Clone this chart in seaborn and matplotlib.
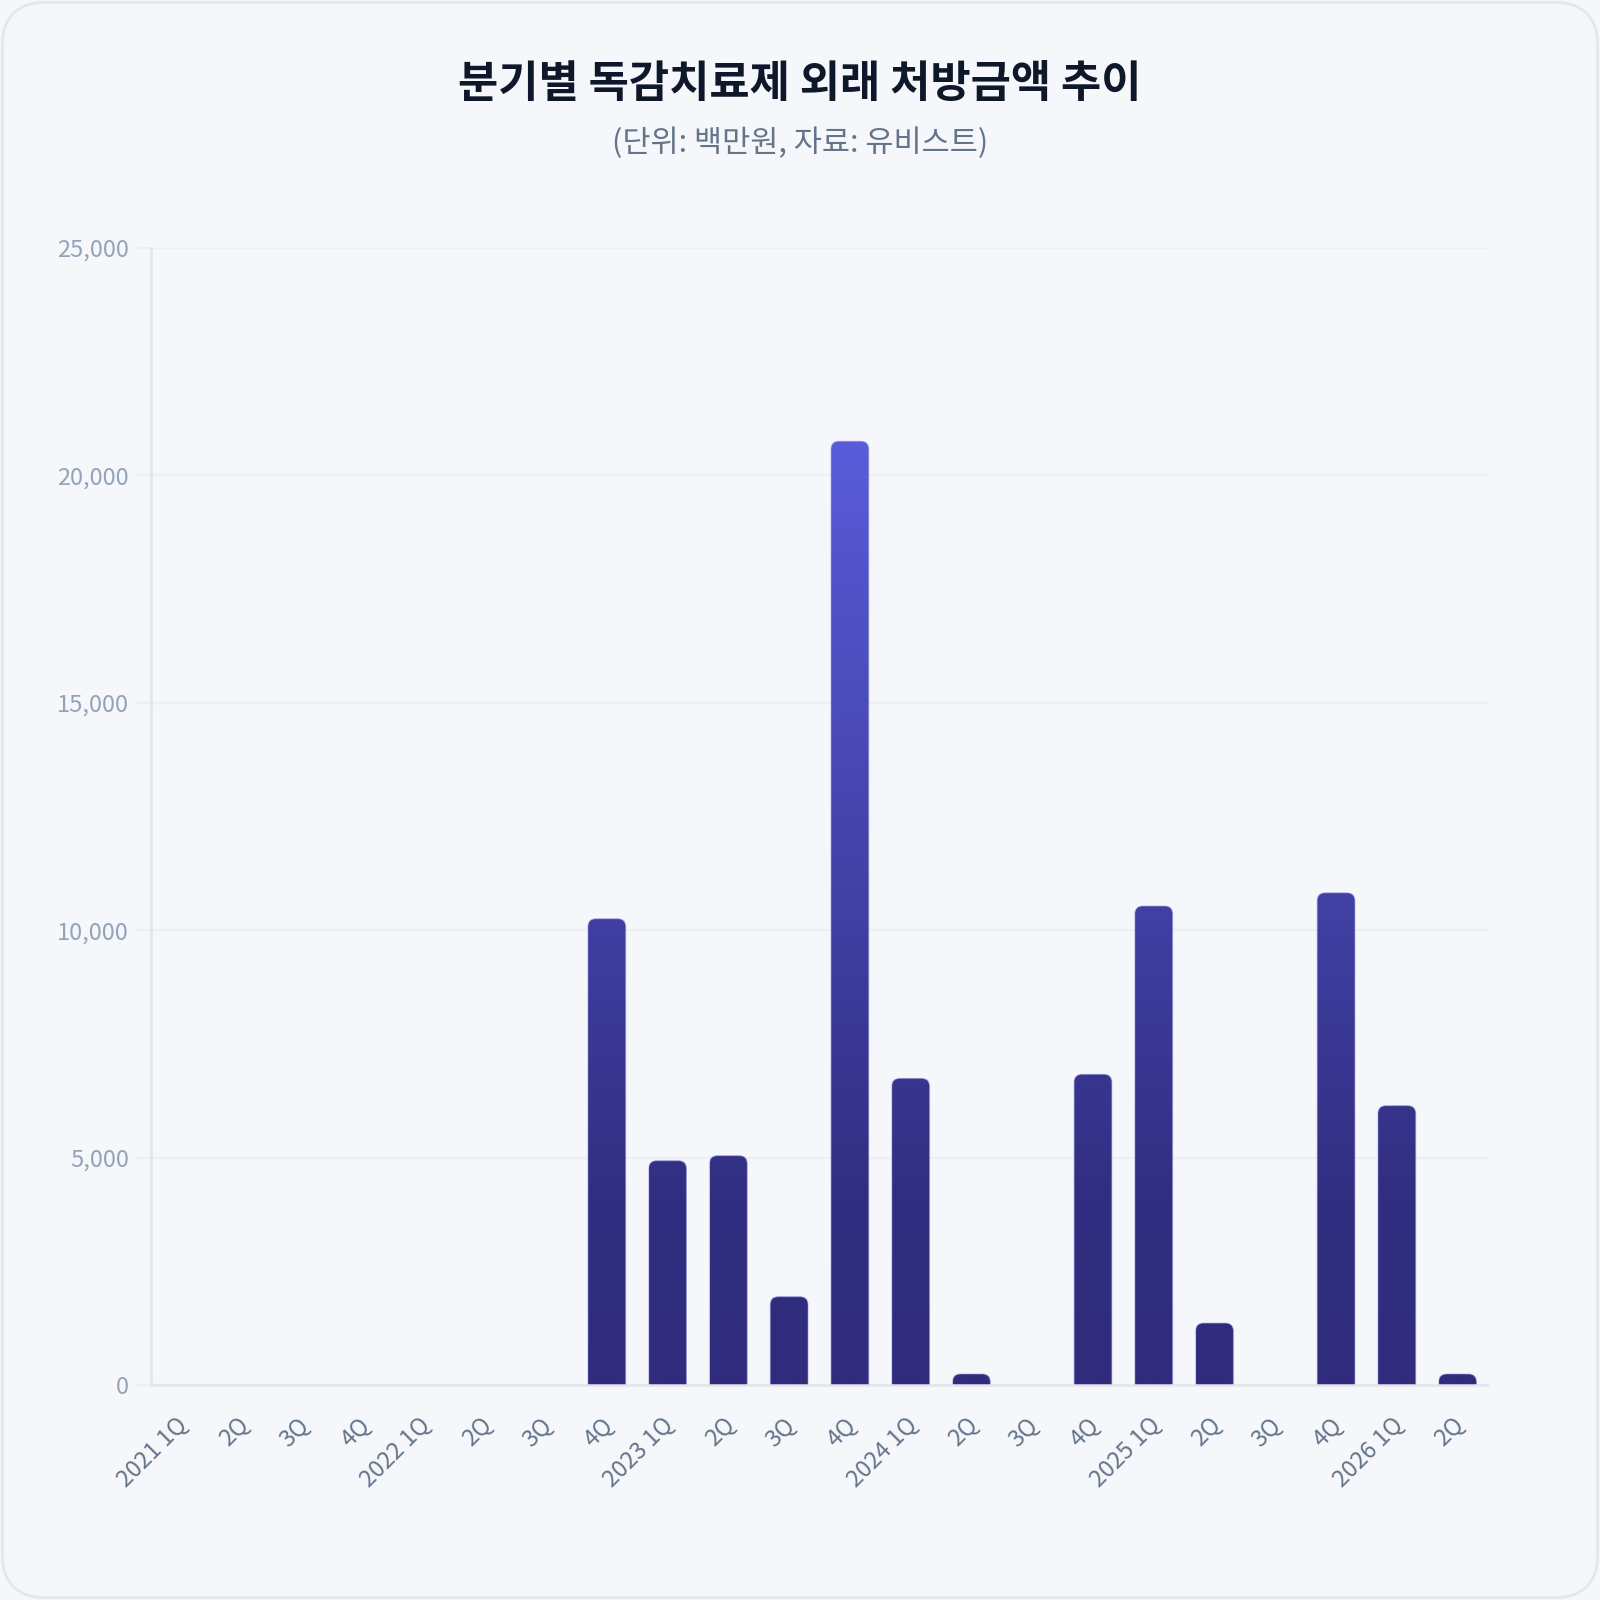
import numpy as np
import pandas as pd
import matplotlib
matplotlib.use("Agg")
import matplotlib.pyplot as plt
import seaborn as sns
from matplotlib.patches import FancyBboxPatch
from matplotlib.colors import LinearSegmentedColormap
from matplotlib.ticker import FuncFormatter
import matplotlib.transforms as mtransforms

# ---- data ----
quarter_keys = ["2021Q1", "2021Q2", "2021Q3", "2021Q4",
                "2022Q1", "2022Q2", "2022Q3", "2022Q4",
                "2023Q1", "2023Q2", "2023Q3", "2023Q4",
                "2024Q1", "2024Q2", "2024Q3", "2024Q4",
                "2025Q1", "2025Q2", "2025Q3", "2025Q4",
                "2026Q1", "2026Q2"]
tick_labels = ["2021 1Q", "2Q", "3Q", "4Q",
               "2022 1Q", "2Q", "3Q", "4Q",
               "2023 1Q", "2Q", "3Q", "4Q",
               "2024 1Q", "2Q", "3Q", "4Q",
               "2025 1Q", "2Q", "3Q", "4Q",
               "2026 1Q", "2Q"]
amounts = [0, 0, 0, 0,
           0, 0, 0, 10250,
           4930, 5040, 1940, 20750,
           6740, 240, 0, 6830,
           10530, 1360, 0, 10820,
           6140, 240]
y_ticks = [0, 5000, 10000, 15000, 20000, 25000]

title = "분기별 독감치료제 외래 처방금액 추이"
subtitle = "(단위: 백만원, 자료: 유비스트)"

df = pd.DataFrame({"quarter": quarter_keys, "amount": amounts})

# ---- style ----
sns.set_theme(style="white")
plt.rcParams["font.family"] = ["Noto Sans CJK KR", "DejaVu Sans"]

BG = "#f5f7fa"
GRID = "#eceff3"
AXIS = "#e2e6ec"

fig = plt.figure(figsize=(16, 16), dpi=100, facecolor=BG)

# card background with rounded border
card = FancyBboxPatch((0.0015, 0.0015), 0.997, 0.997,
                      boxstyle="round,pad=0,rounding_size=0.027",
                      transform=fig.transFigure, facecolor=BG,
                      edgecolor="#e2e8f0", linewidth=2, zorder=-10)
fig.patches.append(card)

ax = fig.add_axes([0.0944, 0.1344, 0.8356, 0.7106])
ax.set_facecolor("none")
ax.set_zorder(1)

sns.barplot(data=df, x="quarter", y="amount", order=quarter_keys,
            width=0.62, color="#312e81", ax=ax, errorbar=None)

ymax = 25000
ax.set_ylim(0, ymax)
xlim = ax.get_xlim()

cmap = LinearSegmentedColormap.from_list(
    "indigo", [(0.0, "#302b7c"), (0.16, "#312e81"), (1.0, "#6467f0")])
grad = np.linspace(0, 1, 512).reshape(-1, 1)

# pixel geometry for rounded corners
fig.canvas.draw()
bb = ax.get_window_extent()
px_per_x = bb.width / (xlim[1] - xlim[0])
px_per_y = bb.height / ymax
radius_px = 8
rx = radius_px / px_per_x
ry = radius_px / px_per_y

for p in list(ax.patches):
    x0, w, h = p.get_x(), p.get_width(), p.get_height()
    p.set_visible(False)
    if h <= 0:
        continue
    ext = 400
    rb = FancyBboxPatch((x0, -ext), w, h + ext,
                        boxstyle=f"round,pad=0,rounding_size={rx}",
                        mutation_aspect=ry / rx,
                        facecolor="none", edgecolor="none",
                        linewidth=0, zorder=2)
    ax.add_patch(rb)
    im = ax.imshow(grad, extent=[x0, x0 + w, 0, ymax], origin="lower",
                   aspect="auto", cmap=cmap, zorder=2, interpolation="bilinear")
    im.set_clip_path(rb)
    edge = FancyBboxPatch((x0, -ext), w, h + ext,
                          boxstyle=f"round,pad=0,rounding_size={rx}",
                          mutation_aspect=ry / rx,
                          facecolor="none", edgecolor="#8b8fd8",
                          linewidth=0.8, alpha=0.5, zorder=3)
    ax.add_patch(edge)

ax.set_xlim(xlim)
ax.set_ylim(0, ymax)

# axes styling
ax.set_yticks(y_ticks)
ax.yaxis.set_major_formatter(FuncFormatter(lambda v, _: f"{int(v):,}"))
ax.grid(axis="y", color=GRID, linewidth=1.5, zorder=0)
ax.set_axisbelow(True)
for s in ["top", "right"]:
    ax.spines[s].set_visible(False)
ax.spines["left"].set_color(AXIS)
ax.spines["left"].set_linewidth(1.8)
ax.spines["bottom"].set_color(AXIS)
ax.spines["bottom"].set_linewidth(1.8)
ax.spines["bottom"].set_zorder(4)

ax.tick_params(axis="y", length=11, width=1.5, color=GRID, pad=5,
               labelsize=17, labelcolor="#94a3b8", left=True)
ax.tick_params(axis="x", length=0, pad=20, labelsize=17, labelcolor="#64748b")
ax.set_xticks(range(len(tick_labels)))
ax.set_xticklabels(tick_labels, rotation=45, ha="right", va="top",
                   rotation_mode="anchor")
offset = mtransforms.ScaledTranslation(-6 / 100, 0, fig.dpi_scale_trans)
for lbl in ax.get_xticklabels():
    lbl.set_transform(lbl.get_transform() + offset)

ax.set_xlabel("")
ax.set_ylabel("")

fig.text(0.5, 1 - 84 / 1600, title, ha="center", va="center",
         fontsize=31.5, fontweight="bold", color="#0f172a")
fig.text(0.5, 1 - 143 / 1600, subtitle, ha="center", va="center",
         fontsize=22, color="#64748b")

fig.savefig("out.png", dpi=100, facecolor=BG)
